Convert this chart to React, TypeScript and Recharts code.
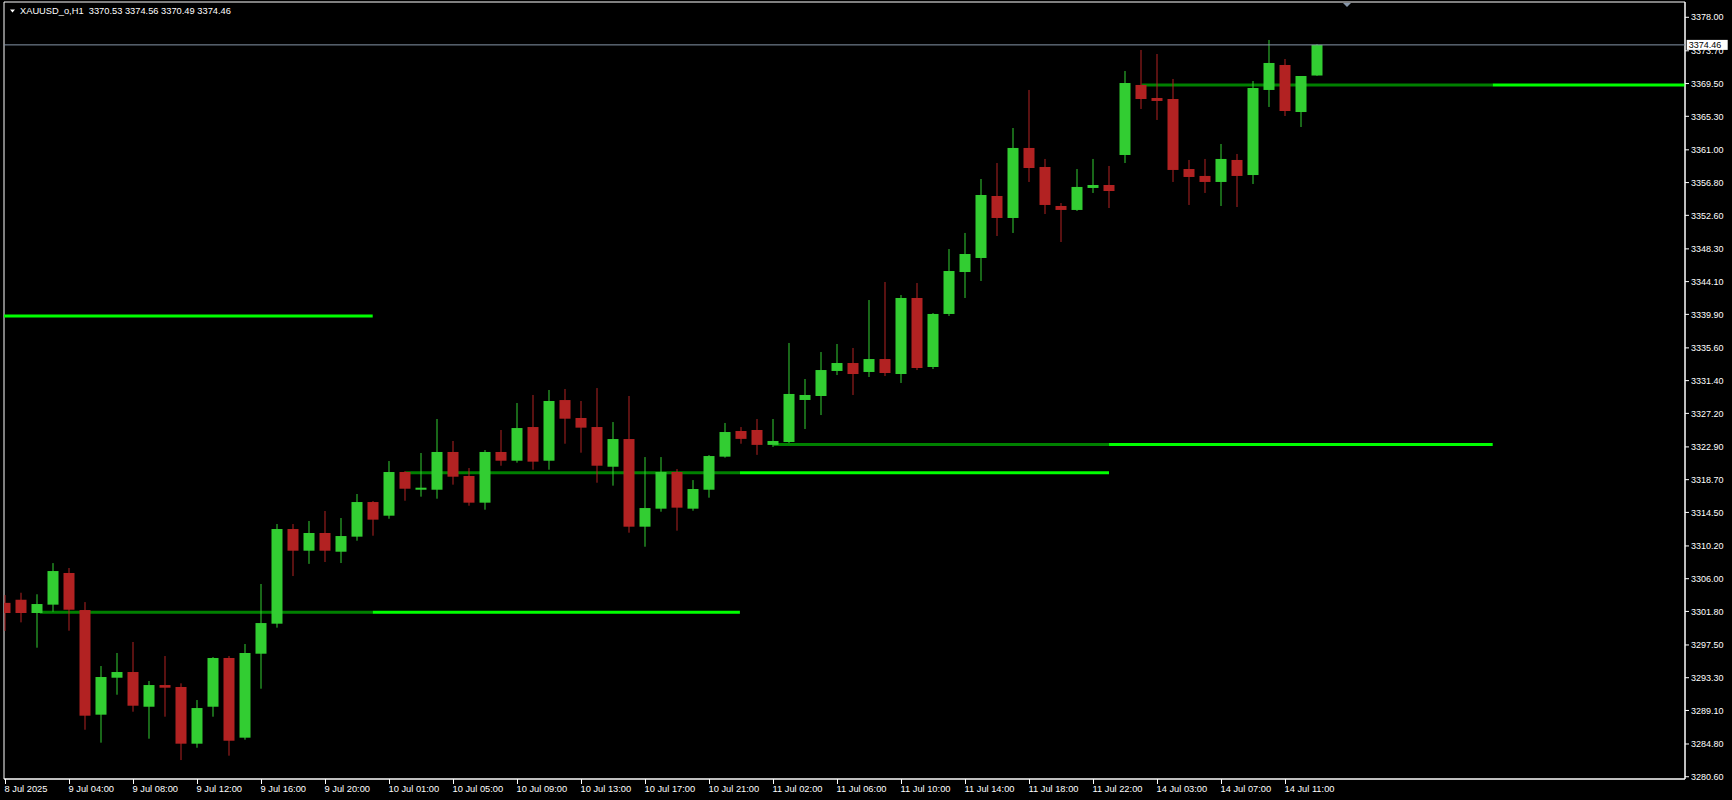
import React from 'react';
import { ComposedChart, Bar, XAxis, YAxis, ReferenceLine, ReferenceArea } from 'recharts';

// ---- data (XAUUSD_o, H1) ----
const opens = [
  3302.9, 3303.3, 3301.6, 3302.67, 3306.73, 3301.98, 3288.56, 3293.3, 3294.03, 3289.58,
  3292.36, 3292.11, 3284.84, 3289.58, 3295.83, 3285.61, 3296.38, 3300.23, 3312.37, 3309.59,
  3311.86, 3309.46, 3311.39, 3315.83, 3314.08, 3319.68, 3317.41, 3317.41, 3322.25, 3319.17,
  3315.75, 3322.25, 3321.13, 3325.45, 3321.13, 3328.91, 3326.61, 3325.45, 3320.36, 3323.91,
  3312.67, 3314.98, 3319.68, 3314.98, 3317.41, 3321.65, 3324.94, 3325.07, 3323.16, 3323.53,
  3328.92, 3329.43, 3332.64, 3333.66, 3332.51, 3334.17, 3332.25, 3342.0, 3333.15, 3339.95,
  3345.33, 3347.13, 3355.08, 3352.26, 3361.24, 3358.8, 3353.8, 3353.29, 3356.11, 3356.49,
  3360.34, 3369.32, 3367.65, 3367.52, 3358.54, 3357.65, 3356.88, 3359.7, 3357.77, 3368.68,
  3371.88, 3365.85, 3370.53,
];
const highs = [
  3303.9, 3304.2, 3304.0, 3308.0, 3307.37, 3303.0, 3294.8, 3296.47, 3297.88, 3292.88,
  3296.08, 3292.58, 3290.44, 3295.95, 3296.08, 3297.62, 3305.32, 3313.01, 3313.01, 3313.4,
  3314.68, 3313.78, 3316.86, 3315.96, 3321.09, 3319.8, 3322.12, 3326.48, 3323.66, 3320.19,
  3322.5, 3325.07, 3328.53, 3329.56, 3330.2, 3330.33, 3328.79, 3330.45, 3326.09, 3329.43,
  3321.6, 3321.6, 3320.06, 3318.65, 3321.86, 3325.97, 3325.45, 3326.48, 3326.48, 3336.23,
  3331.61, 3335.07, 3336.1, 3335.59, 3341.74, 3344.05, 3342.38, 3343.92, 3340.07, 3348.28,
  3350.34, 3357.26, 3359.31, 3363.8, 3368.68, 3359.83, 3354.18, 3358.54, 3359.83, 3358.93,
  3371.11, 3373.81, 3373.29, 3370.09, 3359.7, 3359.83, 3361.75, 3360.47, 3369.83, 3375.09,
  3372.65, 3370.47, 3374.56,
];
const lows = [
  3299.3, 3300.4, 3297.15, 3301.77, 3299.33, 3286.63, 3284.97, 3291.12, 3288.94, 3285.48,
  3288.3, 3282.74, 3284.32, 3288.3, 3283.3, 3285.35, 3291.89, 3299.72, 3306.34, 3307.9,
  3308.14, 3308.01, 3310.87, 3311.51, 3313.69, 3316.0, 3316.52, 3316.26, 3318.06, 3315.36,
  3314.85, 3320.49, 3320.88, 3319.98, 3319.98, 3323.31, 3322.16, 3318.31, 3317.93, 3311.9,
  3310.1, 3314.59, 3312.16, 3314.72, 3316.39, 3321.52, 3323.31, 3321.88, 3322.9, 3323.4,
  3325.2, 3326.99, 3332.12, 3329.56, 3331.87, 3331.99, 3331.1, 3332.76, 3332.89, 3339.69,
  3342.0, 3344.18, 3349.95, 3350.34, 3356.88, 3352.77, 3349.18, 3353.16, 3355.47, 3353.54,
  3359.31, 3366.24, 3364.83, 3356.88, 3353.93, 3355.47, 3353.8, 3353.67, 3356.62, 3366.5,
  3365.34, 3363.93, 3370.49,
];
const closes = [
  3301.6, 3301.6, 3302.75, 3306.98, 3302.02, 3288.43, 3293.39, 3294.03, 3289.71, 3292.36,
  3292.02, 3284.84, 3289.41, 3295.83, 3285.22, 3296.47, 3300.31, 3312.37, 3309.59, 3311.86,
  3309.59, 3311.47, 3315.83, 3313.57, 3319.68, 3317.54, 3317.67, 3322.25, 3319.08, 3315.75,
  3322.25, 3321.13, 3325.32, 3321.01, 3328.79, 3326.52, 3325.37, 3320.49, 3323.91, 3312.67,
  3315.06, 3319.68, 3315.11, 3317.5, 3321.73, 3324.81, 3323.93, 3323.16, 3323.66, 3329.69,
  3329.56, 3332.76, 3333.66, 3332.25, 3334.17, 3332.38, 3342.0, 3333.02, 3339.95, 3345.46,
  3347.64, 3355.21, 3352.26, 3361.24, 3358.67, 3353.93, 3353.29, 3356.24, 3356.49, 3355.72,
  3369.57, 3367.52, 3367.27, 3358.42, 3357.52, 3356.88, 3359.83, 3357.65, 3368.93, 3372.14,
  3365.98, 3370.47, 3374.46,
];

const tickBars = [0, 4, 8, 12, 16, 20, 24, 28, 32, 36, 40, 44, 48, 52, 56, 60, 64, 68, 72, 76, 80];
const tickLabels = [
  '8 Jul 2025', '9 Jul 04:00', '9 Jul 08:00', '9 Jul 12:00', '9 Jul 16:00', '9 Jul 20:00',
  '10 Jul 01:00', '10 Jul 05:00', '10 Jul 09:00', '10 Jul 13:00', '10 Jul 17:00', '10 Jul 21:00',
  '11 Jul 02:00', '11 Jul 06:00', '11 Jul 10:00', '11 Jul 14:00', '11 Jul 18:00', '11 Jul 22:00',
  '14 Jul 03:00', '14 Jul 07:00', '14 Jul 11:00',
];
const priceTicks = [
  3378.0, 3373.7, 3369.5, 3365.3, 3361.0, 3356.8, 3352.6, 3348.3, 3344.1, 3339.9, 3335.6, 3331.4,
  3327.2, 3322.9, 3318.7, 3314.5, 3310.2, 3306.0, 3301.8, 3297.5, 3293.3, 3289.1, 3284.8, 3280.6,
];

// level lines: price, dark segment start, switch to bright, bright end (bar index units)
const levelPrices = [3339.7, 3301.7, 3319.6, 3323.2, 3369.3];
const levelDarkFrom = [null, 2.15, 25, 48, 71];
const levelSwitch = [22.95, 22.95, 45.9, 68.97, 92.95];
const levelBrightTo = [22.95, 45.9, 68.97, 92.95, null];

const X_MIN = -0.09375;
const X_MAX = 104.96875;
const Y_MIN = 3280.31;
const Y_MAX = 3379.96;

const UP = '#32cd32';
const DOWN = '#b22222';
const FONT = '"Liberation Sans", Arial, sans-serif';

const data = opens.map((o, i) => ({
  i,
  open: o,
  high: highs[i],
  low: lows[i],
  close: closes[i],
  range: [lows[i], highs[i]],
}));

const Candle = (props: any) => {
  const { x, y, width, height, payload } = props;
  if (!payload || x == null) return null;
  const cx = x + width / 2;
  const top = Math.min(y, y + height);
  const h = Math.abs(height);
  const { open, close, high, low } = payload;
  const ppu = high - low > 0 ? h / (high - low) : 0;
  const yO = top + (high - open) * ppu;
  const yC = top + (high - close) * ppu;
  const up = close >= open;
  const color = up ? UP : DOWN;
  const bTop = Math.min(yO, yC);
  const bH = Math.max(Math.abs(yO - yC), 1);
  return (
    <g>
      <rect x={cx - 0.5} y={top} width={1} height={Math.max(h, 1)} fill={color} />
      <rect x={cx - 5.5} y={bTop} width={11} height={bH} fill={color} />
    </g>
  );
};

const XTick = (props: any) => {
  const { x, y, payload } = props;
  const k = tickBars.indexOf(payload.value);
  return (
    <text x={x - 1} y={y} dy="0.71em" textAnchor="start" fill="#ffffff" fontSize={9.3} fontFamily={FONT}>
      {k >= 0 ? tickLabels[k] : ''}
    </text>
  );
};

const PriceTag = (props: any) => {
  const vb = props.viewBox || {};
  const x = (vb.x || 0) + (vb.width || 0) + 1.7;
  const y = vb.y || 0;
  return (
    <g>
      <rect x={x} y={y - 5} width={41} height={10} fill="#ffffff" />
      <text x={x + 2} y={y} dy="0.36em" fontSize={9} fill="#000000" fontFamily={FONT}>
        {closes[closes.length - 1].toFixed(2)}
      </text>
    </g>
  );
};

export default function App() {
  const last = data.length - 1;
  const header = `XAUUSD_o,H1  ${opens[last].toFixed(2)} ${highs[last].toFixed(2)} ${lows[last].toFixed(2)} ${closes[last].toFixed(2)}`;

  const levelEls: React.ReactNode[] = [];
  levelPrices.forEach((p, k) => {
    const df = levelDarkFrom[k];
    if (df != null) {
      levelEls.push(
        <ReferenceLine
          key={`d${k}`}
          segment={[{ x: df, y: p }, { x: levelSwitch[k], y: p }]}
          stroke="#008000"
          strokeWidth={3}
          zIndex={50}
        />
      );
    }
    const bf = df != null ? levelSwitch[k] : X_MIN;
    const bt = levelBrightTo[k] != null ? (levelBrightTo[k] as number) : X_MAX;
    levelEls.push(
      <ReferenceLine
        key={`b${k}`}
        segment={[{ x: bf, y: p }, { x: bt, y: p }]}
        stroke="#00ff00"
        strokeWidth={3}
        zIndex={50}
      />
    );
  });

  return (
    <div style={{ position: 'absolute', left: 0, top: 0, width: 1732, height: 800, background: '#000000', overflow: 'hidden' }}>
      <ComposedChart
        width={1732}
        height={800}
        data={data}
        margin={{ top: 2, right: 0, bottom: 0, left: 4 }}
      >
        <XAxis
          dataKey="i"
          type="number"
          domain={[X_MIN, X_MAX]}
          allowDataOverflow
          ticks={tickBars}
          interval={0}
          tick={<XTick />}
          tickSize={5}
          tickMargin={1}
          tickLine={{ stroke: '#ffffff' }}
          axisLine={{ stroke: '#ffffff' }}
          height={21}
        />
        <YAxis
          orientation="right"
          type="number"
          domain={[Y_MIN, Y_MAX]}
          allowDataOverflow
          ticks={priceTicks}
          interval={0}
          width={47}
          tickSize={4}
          tickMargin={2}
          tickLine={{ stroke: '#ffffff' }}
          axisLine={{ stroke: '#ffffff' }}
          tick={{ fill: '#ffffff', fontSize: 9, fontFamily: FONT }}
          tickFormatter={(v: number) => v.toFixed(2)}
        />
        <ReferenceArea
          x1={X_MIN}
          x2={X_MAX}
          y1={Y_MIN}
          y2={Y_MAX}
          fill="none"
          fillOpacity={0}
          stroke="#ffffff"
          strokeWidth={1}
          zIndex={40}
        />
        {levelEls}
        <Bar
          dataKey="range"
          barSize={11}
          isAnimationActive={false}
          shape={(p: any) => <Candle {...p} />}
        />
        <ReferenceLine
          y={closes[last]}
          stroke="#8595a8"
          strokeWidth={1}
          zIndex={2500}
          label={<PriceTag />}
        />
      </ComposedChart>
      <div
        style={{
          position: 'absolute',
          left: 20,
          top: 5,
          color: '#ffffff',
          fontFamily: FONT,
          fontSize: 9.3,
          whiteSpace: 'pre',
          lineHeight: '12px',
        }}
      >
        {header}
      </div>
      <svg width={1732} height={800} style={{ position: 'absolute', left: 0, top: 0, pointerEvents: 'none' }}>
        <polygon points="10,9.5 15,9.5 12.5,12.5" fill="#ffffff" />
        <polygon points="1343,3 1351,3 1347,7" fill="#8595a8" />
      </svg>
    </div>
  );
}
